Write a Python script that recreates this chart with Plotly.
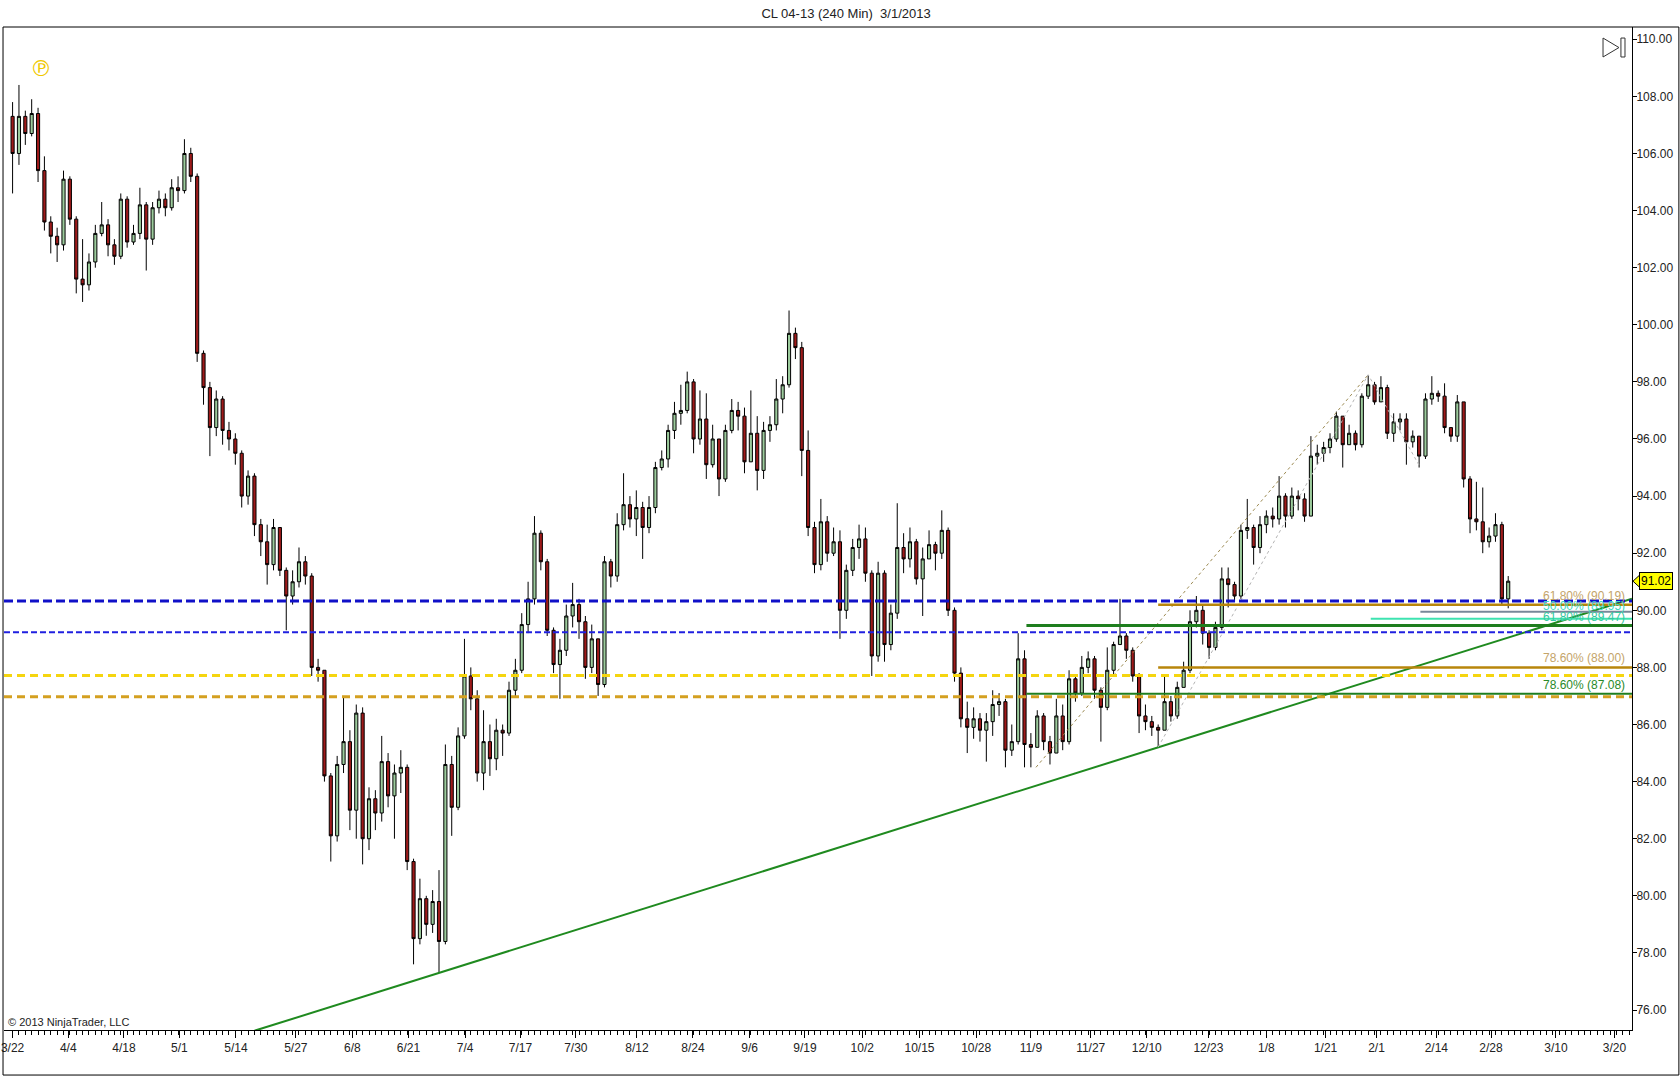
import plotly.graph_objects as go

# CL 04-13, one bar per session, 3/22/2012 .. 3/1/2013
first_open = 107.3
closes = [
    106.0, 107.3, 106.7, 107.4, 105.4, 103.6, 103.1, 102.8, 105.1, 103.7,
    101.6, 101.4, 102.2, 103.2, 103.5, 102.8, 102.4, 104.4, 102.9, 103.2,
    104.2, 103.0, 104.1, 104.4, 104.1, 104.8, 104.7, 106.0, 105.2, 99.0,
    97.8, 96.4, 97.4, 96.3, 96.0, 95.5, 94.0, 94.7, 93.0, 92.4,
    91.6, 92.9, 91.4, 90.5, 91.0, 91.7, 91.2, 88.0, 87.9, 84.2,
    82.1, 84.6, 85.4, 83.0, 86.4, 82.0, 83.4, 82.9, 84.7, 83.5,
    84.3, 84.5, 81.2, 78.5, 79.9, 79.0, 79.8, 78.4, 84.6, 83.1,
    85.6, 87.7, 86.9, 84.3, 85.4, 84.8, 85.8, 85.7, 87.2, 87.9,
    89.5, 90.4, 92.7, 91.7, 89.3, 88.1, 88.6, 89.8, 90.2, 89.6,
    88.0, 89.0, 87.4, 91.7, 91.2, 93.0, 93.7, 93.2, 93.6, 92.9,
    93.6, 95.0, 95.3, 96.3, 96.9, 97.0, 98.0, 96.0, 96.7, 95.1,
    96.0, 94.6, 96.3, 97.0, 96.8, 95.2, 96.2, 94.9, 96.3, 96.5,
    97.4, 97.9, 99.7, 99.2, 95.6, 92.9, 91.6, 93.1, 92.0, 92.4,
    90.0, 91.4, 92.2, 92.5, 91.3, 88.4, 91.3, 88.8, 89.9, 92.2,
    91.8, 92.4, 91.1, 91.8, 92.3, 92.0, 92.8, 90.0, 87.8, 86.2,
    85.9, 86.2, 85.8, 86.1, 86.7, 86.8, 85.1, 85.4, 88.3, 85.3,
    85.2, 86.3, 85.4, 85.0, 86.3, 85.4, 87.6, 87.1, 88.0, 88.3,
    87.2, 86.6, 87.9, 88.8, 89.1, 88.6, 87.7, 86.3, 86.1, 85.9,
    85.8, 86.8, 86.3, 87.3, 87.9, 89.6, 90.0, 89.2, 88.7, 89.4,
    91.1, 90.9, 90.5, 92.8, 92.9, 92.2, 93.0, 93.3, 93.2, 94.0,
    93.3, 94.0, 93.9, 93.3, 95.4, 95.5, 95.7, 96.0, 96.8, 95.8,
    96.2, 95.8, 97.5, 97.9, 97.3, 97.8, 96.2, 96.6, 96.7, 95.9,
    96.1, 95.4, 97.4, 97.6, 97.5, 96.4, 96.1, 97.3, 94.6, 93.2,
    93.1, 92.4, 92.6, 93.0, 90.4, 91.02,
]
highs = [
    107.8, 108.4, 107.5, 107.9, 107.6, 105.9, 103.8, 103.4, 105.4, 105.2,
    103.8, 103.0, 102.5, 103.5, 104.3, 103.7, 103.0, 104.6, 104.5, 103.5,
    104.8, 104.3, 104.3, 104.7, 104.6, 105.1, 105.2, 106.5, 106.2, 105.3,
    99.1, 98.0, 97.7, 97.5, 96.6, 96.2, 95.6, 94.9, 94.8, 93.2,
    93.0, 93.2, 92.9, 91.5, 91.4, 92.2, 91.9, 91.3, 88.3, 87.9,
    84.3, 84.9, 87.0, 85.8, 86.7, 86.6, 83.8, 83.7, 85.6, 85.0,
    84.6, 85.1, 84.6, 81.3, 80.6, 80.0, 80.2, 80.9, 85.3, 84.9,
    85.9, 89.0, 88.0, 87.2, 86.5, 86.0, 86.2, 86.0, 87.5, 88.3,
    89.9, 91.0, 93.3, 92.8, 91.8, 89.4, 89.0, 90.2, 90.96, 90.4,
    89.8, 89.5, 89.0, 91.9, 91.8, 93.4, 94.8, 94.0, 94.2, 93.8,
    94.0, 95.2, 95.6, 96.5, 97.3, 97.9, 98.36, 98.1, 97.7, 97.6,
    96.5, 96.0, 96.5, 97.4, 97.3, 97.1, 97.7, 96.8, 96.6, 96.8,
    98.1, 98.2, 100.5, 99.9, 99.4, 96.3, 93.1, 93.9, 93.3, 92.9,
    92.8, 91.6, 92.5, 93.0, 92.9, 91.4, 91.7, 91.4, 90.2, 93.75,
    92.7, 92.9, 92.5, 92.2, 92.8, 92.4, 93.5, 92.9, 90.1, 88.0,
    86.8, 86.6, 86.4, 86.4, 87.2, 87.1, 86.9, 86.0, 89.2, 88.6,
    85.7, 86.5, 86.4, 85.6, 86.9, 86.7, 87.9, 87.7, 88.4, 88.56,
    88.4, 87.3, 88.7, 88.9, 90.4, 89.2, 88.7, 87.8, 86.7, 86.3,
    86.0, 87.7, 87.0, 87.5, 88.2, 90.0, 90.5, 90.2, 89.3, 89.6,
    91.5, 91.5, 91.0, 93.0, 93.9, 93.0, 93.3, 93.5, 93.6, 94.7,
    94.1, 94.3, 94.2, 94.1, 96.1, 95.8, 95.9, 96.2, 96.96, 96.8,
    96.5, 96.3, 97.6, 98.24, 98.0, 98.2, 97.9, 96.9, 96.9, 96.9,
    96.3, 96.1, 97.6, 98.2, 97.7, 97.95, 96.4, 97.54, 97.3, 94.7,
    94.5, 94.3, 92.9, 93.4, 93.1, 91.2,
]
lows = [
    104.6, 105.6, 106.3, 106.6, 105.0, 103.3, 102.5, 102.2, 102.6, 103.5,
    101.1, 100.8, 101.2, 102.0, 103.1, 102.4, 102.1, 102.3, 102.7, 102.8,
    103.0, 101.9, 102.8, 103.9, 103.8, 104.0, 104.3, 104.6, 105.0, 98.7,
    97.2, 95.4, 96.1, 95.8, 95.6, 95.1, 93.6, 93.7, 92.6, 91.9,
    90.9, 91.4, 91.2, 89.3, 90.2, 90.8, 90.9, 87.7, 87.5, 84.0,
    81.2, 81.9, 84.3, 82.3, 82.0, 81.1, 81.6, 82.3, 82.6, 83.1,
    82.0, 83.6, 80.9, 77.6, 78.3, 78.6, 78.7, 77.3, 78.3, 82.1,
    83.0, 85.5, 86.5, 84.0, 83.7, 84.2, 84.4, 84.9, 85.6, 87.0,
    87.8, 89.2, 90.2, 91.4, 89.1, 87.8, 86.9, 88.4, 89.4, 89.0,
    87.6, 87.8, 87.0, 87.3, 90.8, 91.0, 92.8, 92.9, 92.6, 91.8,
    92.7, 93.4, 94.9, 95.0, 96.0, 96.5, 96.9, 95.5, 95.8, 94.6,
    95.0, 94.0, 94.5, 96.2, 96.3, 94.8, 95.2, 94.2, 94.6, 95.9,
    96.3, 96.9, 97.8, 98.8, 94.7, 92.6, 91.3, 91.4, 91.7, 91.9,
    89.0, 89.7, 91.2, 91.8, 91.0, 87.7, 88.2, 88.2, 88.6, 89.7,
    91.3, 91.5, 90.9, 89.8, 91.8, 91.4, 91.8, 89.8, 87.5, 85.9,
    85.0, 85.5, 85.4, 84.7, 85.6, 86.3, 84.5, 84.9, 85.3, 84.5,
    84.5, 85.2, 85.1, 84.6, 85.0, 85.1, 85.3, 86.8, 87.0, 87.8,
    86.9, 85.4, 86.5, 87.7, 88.8, 88.3, 87.5, 85.7, 85.8, 85.6,
    85.2, 85.8, 86.1, 86.2, 87.3, 87.8, 89.4, 88.8, 88.3, 88.6,
    89.3, 90.1, 90.3, 90.4, 92.5, 91.6, 92.0, 92.7, 92.9, 93.0,
    92.9, 93.2, 93.5, 93.1, 93.3, 95.1, 95.2, 95.5, 95.9, 95.0,
    95.8, 95.6, 95.7, 97.4, 97.2, 97.3, 96.0, 95.9, 96.3, 95.1,
    95.7, 95.0, 95.3, 97.2, 97.3, 96.2, 95.9, 95.9, 94.3, 92.7,
    92.8, 92.0, 92.2, 92.4, 90.2, 90.07,
]
opens = [first_open] + closes[:-1]
bars = list(range(len(closes)))

date_labels = ["3/22", "4/4", "4/18", "5/1", "5/14", "5/27", "6/8", "6/21", "7/4",
               "7/17", "7/30", "8/12", "8/24", "9/6", "9/19", "10/2", "10/15",
               "10/28", "11/9", "11/27", "12/10", "12/23", "1/8", "1/21", "2/1",
               "2/14", "2/28", "3/10", "3/20"]
date_bars = [0, 8.75, 17.5, 26.2, 35.1, 44.5, 53.4, 62.2, 71.1, 79.8, 88.5, 98.1,
             106.9, 115.8, 124.5, 133.5, 142.5, 151.4, 160.0, 169.4, 178.2, 187.9,
             197.0, 206.3, 214.3, 223.7, 232.3, 242.5, 251.7]
price_ticks = list(range(76, 111, 2))

# drawing objects on the chart
blue_thick = 90.33
blue_thin = 89.23
yellow_lvl = 87.72
gold_lvl = 86.97
trend_a = (67, 77.3)
trend_b = (180, 85.2)
fib_high_bar, fib_high = 213, 98.25
fib_low_bar, fib_low = 180, 85.21        # brown retracement
green_low_bar, green_low = 159.3, 84.04  # green retracement
swing_low_bar, swing_low = 221.2, 95.0
channel_start = (160.8, 84.5)
gray_lvl, gray_start = 89.95, 221.2
aqua_lvl, aqua_start = 89.70, 213.4
last_price = closes[-1]

X_RANGE = [-1.35, 254.45]
Y_RANGE = [75.30, 110.43]
FONT = "Liberation Sans"

fig = go.Figure()

fig.add_trace(go.Candlestick(
    x=bars, open=opens, high=highs, low=lows, close=closes,
    increasing=dict(fillcolor="#9ccb9c", line=dict(color="black", width=1)),
    decreasing=dict(fillcolor="#9e1a1a", line=dict(color="black", width=1)),
    whiskerwidth=0, hoverinfo="skip", showlegend=False))

# trend line through the two lows, extended over the whole axis
slope = (trend_b[1] - trend_a[1]) / (trend_b[0] - trend_a[0])
tx = [X_RANGE[0], X_RANGE[1]]
ty = [trend_a[1] + slope * (v - trend_a[0]) for v in tx]
fig.add_trace(go.Scatter(x=tx, y=ty, mode="lines", line=dict(color="#1f8a1f", width=2),
                         hoverinfo="skip", showlegend=False))

# dotted anchor lines of the fib tools
fig.add_trace(go.Scatter(x=[channel_start[0], fib_high_bar], y=[channel_start[1], fib_high],
                         mode="lines", line=dict(color="#9c8a52", width=1, dash="dot"),
                         hoverinfo="skip", showlegend=False))
fig.add_trace(go.Scatter(x=[fib_low_bar, fib_high_bar, swing_low_bar],
                         y=[fib_low, fib_high, swing_low],
                         mode="lines", line=dict(color="#b4b4b4", width=1, dash="dot"),
                         hoverinfo="skip", showlegend=False))


def full_line(level, color, width, dash):
    fig.add_shape(type="line", xref="paper", x0=0, x1=1, yref="y", y0=level, y1=level,
                  line=dict(color=color, width=width, dash=dash), layer="above")


def part_line(start, level, color, width):
    fig.add_shape(type="line", xref="x", x0=start, x1=X_RANGE[1], yref="y", y0=level, y1=level,
                  line=dict(color=color, width=width), layer="above")


def level_label(level, text, color, dy=0):
    fig.add_annotation(xref="paper", x=0.997, xanchor="right", yref="y", y=level,
                       yanchor="bottom", yshift=dy, text=text, showarrow=False,
                       font=dict(family=FONT, size=12, color=color))


def fib(low, ratio):
    return fib_high - ratio * (fib_high - low)


full_line(gold_lvl, "#d4a020", 3, "8px,5px")
full_line(yellow_lvl, "#f5d50f", 3, "8px,5px")
full_line(blue_thin, "#2020e0", 2, "6px,3px")
full_line(blue_thick, "#1010c8", 3, "9px,4px")

part_line(green_low_bar, fib(green_low, 0.618), "#1e7e1e", 3)
part_line(green_low_bar, fib(green_low, 0.786), "#1e7e1e", 2)
part_line(fib_low_bar, fib(fib_low, 0.618), "#b8860b", 2.5)
part_line(fib_low_bar, fib(fib_low, 0.786), "#b8860b", 2.5)
part_line(gray_start, gray_lvl, "#778899", 2)
part_line(aqua_start, aqua_lvl, "#3de3b0", 2)

level_label(fib(fib_low, 0.618), f"61.80% ({fib(fib_low, 0.618):.2f})", "#c4a46a")
level_label(fib(fib_low, 0.786), f"78.60% ({fib(fib_low, 0.786):.2f})", "#c4a46a")
level_label(gray_lvl, f"50.00% ({gray_lvl:.2f})", "#40d8c0", dy=-3)
level_label(fib(green_low, 0.618), f"61.80% ({fib(green_low, 0.618):.2f})", "#36c8a0", dy=-1)
level_label(fib(green_low, 0.786), f"78.60% ({fib(green_low, 0.786):.2f})", "#2a8a2a")

# last price marker on the price axis
fig.add_annotation(xref="paper", x=1.0, xanchor="left", xshift=7, yref="y", y=last_price,
                   text=f"{last_price:.2f}", showarrow=False, bgcolor="#ffff00",
                   bordercolor="black", borderwidth=1, borderpad=1,
                   font=dict(family=FONT, size=12, color="black"))
fig.add_shape(type="path", xref="paper", yref="y",
              path=f"M 1.0006,{last_price:.3f} L 1.0050,{last_price + 0.23:.3f} "
                   f"L 1.0050,{last_price - 0.23:.3f} Z",
              fillcolor="#ffff00", line=dict(color="black", width=1))

# frame round the chart panel
fig.add_shape(type="rect", xref="paper", yref="paper", x0=-0.0006, x1=1.0288, y0=-0.0449, y1=1.0,
              line=dict(color="black", width=1))

# "go to last bar" icon and the yellow badge top left
fig.add_shape(type="path", xref="paper", yref="paper",
              path="M 0.9822,0.9890 L 0.9920,0.9795 L 0.9822,0.9701 Z",
              line=dict(color="#333333", width=1))
fig.add_shape(type="rect", xref="paper", yref="paper", x0=0.9932, x1=0.9957, y0=0.9701, y1=0.9890,
              line=dict(color="#333333", width=1))
fig.add_annotation(xref="paper", yref="paper", x=0.0145, y=0.973, text="\u2117", showarrow=False,
                   font=dict(family="DejaVu Sans", size=22, color="#f0c800"))

fig.add_annotation(xref="paper", yref="paper", x=0.001, xanchor="left", y=0.008, yanchor="middle",
                   text="\u00a9 2013 NinjaTrader, LLC", showarrow=False,
                   font=dict(family=FONT, size=11, color="#222222"))

fig.update_layout(
    width=1680, height=1076,
    margin=dict(l=1, r=48, t=27, b=46),
    paper_bgcolor="white", plot_bgcolor="white",
    title=dict(text="CL 04-13 (240 Min)\u00a0 3/1/2013", x=0.5036, xref="container",
               y=1 - 13 / 1076, yanchor="middle",
               font=dict(family=FONT, size=13, color="#222222")),
    showlegend=False,
    xaxis=dict(range=X_RANGE, tickmode="array", tickvals=date_bars, ticktext=date_labels,
               ticks="outside", ticklen=7, tickcolor="black", showline=True,
               linecolor="black", linewidth=1, showgrid=False, zeroline=False,
               ticklabeloverflow="allow",
               rangeslider=dict(visible=False),
               minor=dict(tickmode="array", tickvals=list(range(0, 255)), ticks="outside",
                          ticklen=4, tickcolor="black", showgrid=False),
               tickfont=dict(family=FONT, size=12, color="#222222")),
    yaxis=dict(range=Y_RANGE, side="right", tickvals=price_ticks, tickformat=".2f",
               ticks="outside", ticklen=4, tickcolor="black", showline=True,
               linecolor="black", linewidth=1, showgrid=False, zeroline=False,
               ticklabelstandoff=-3,
               tickfont=dict(family=FONT, size=12, color="#222222")),
)

# the page's default body margin would push the 1680 px figure off the window
fig.write_html("out.html", config={"displayModeBar": False},
               post_script="document.body.style.margin='0';document.body.style.overflow='hidden';")
